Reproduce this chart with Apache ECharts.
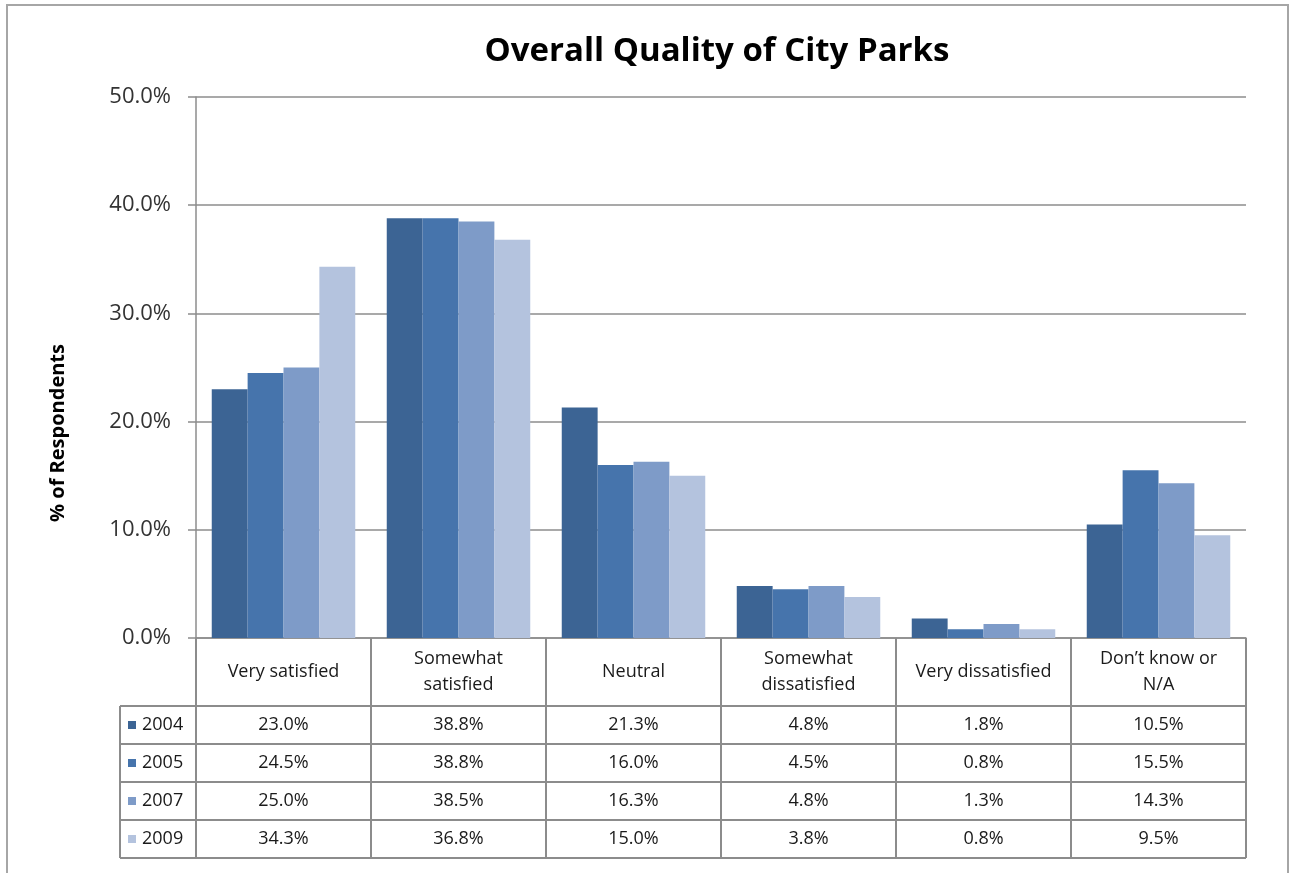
<!DOCTYPE html>
<html>
<head>
<meta charset="utf-8">
<script src="https://cdn.jsdelivr.net/npm/echarts@6/dist/echarts.min.js"></script>
<style>
html, body { margin: 0; padding: 0; background: #fff; }
#main { width: 1289px; height: 873px; }
</style>
</head>
<body>
<div id="main"></div>
<script>
var categories = ['Very satisfied', 'Somewhat satisfied', 'Neutral', 'Somewhat dissatisfied', 'Very dissatisfied', 'Don\u2019t know or N/A'];
var years = ['2004', '2005', '2007', '2009'];
var v2004 = [23.0, 38.8, 21.3, 4.8, 1.8, 10.5];
var v2005 = [24.5, 38.8, 16.0, 4.5, 0.8, 15.5];
var v2007 = [25.0, 38.5, 16.3, 4.8, 1.3, 14.3];
var v2009 = [34.3, 36.8, 15.0, 3.8, 0.8, 9.5];
var yMin = 0, yMax = 50, yStep = 10;

var values = [v2004, v2005, v2007, v2009];
var colors = ['#3c6494', '#4674ac', '#7e9bc8', '#b4c3de'];
var gridColor = '#8c8c8c';
var font = '"Open Sans", Lato, sans-serif';
var catSize = 18;

// word wrap like excel's table header cells
var measure = document.createElement('canvas').getContext('2d');
function wrap(text, maxW) {
	measure.font = catSize + 'px ' + font;
	var words = text.split(' '), lines = [], cur = '';
	words.forEach(function(w) {
		var t = cur ? cur + ' ' + w : w;
		if (cur && measure.measureText(t).width > maxW) { lines.push(cur); cur = w; }
		else cur = t;
	});
	lines.push(cur);
	return lines.join('\n');
}

var myChart = echarts.init(document.getElementById('main'));

var series = years.map(function(y, i) {
	return {
		name: y,
		type: 'bar',
		data: values[i],
		barGap: '0%',
		barCategoryGap: '18%',
		itemStyle: { color: colors[i] }
	};
});

var option = {
	animation: false,
	title: {
		text: 'Overall Quality of City Parks',
		left: 712,
		top: 30,
		textAlign: 'center',
		textStyle: { fontFamily: font, fontSize: 33, fontWeight: 'bold', color: '#000' }
	},
	grid: { left: 196, right: 43, top: 97, bottom: 235, containLabel: false },
	xAxis: {
		type: 'category',
		data: categories,
		axisLine: { lineStyle: { color: gridColor, width: 1.5 } },
		axisTick: { show: true, length: 68, interval: 0, lineStyle: { color: gridColor, width: 2 } },
		axisLabel: {
			interval: 0,
			margin: 34,
			verticalAlign: 'middle',
			lineHeight: 26,
			fontFamily: font,
			fontSize: catSize,
			color: '#1a1a1a',
			formatter: function(v) { return wrap(v, 145); }
		}
	},
	yAxis: {
		type: 'value',
		min: yMin,
		max: yMax,
		interval: yStep,
		axisLine: { show: true, lineStyle: { color: gridColor, width: 1.5 } },
		axisTick: { show: true, length: 8, lineStyle: { color: gridColor, width: 1.5 } },
		splitLine: { lineStyle: { color: gridColor, width: 1.5 } },
		axisLabel: {
			margin: 25,
			fontFamily: font,
			fontSize: 22,
			color: '#333',
			formatter: function(v) { return v.toFixed(1) + '%'; }
		}
	},
	series: series
};
myChart.setOption(option);

// data table drawn underneath the category row
(function() {
	var c0 = myChart.convertToPixel({ xAxisIndex: 0 }, 0);
	var c1 = myChart.convertToPixel({ xAxisIndex: 0 }, 1);
	var band = c1 - c0;
	var tLeft = c0 - band / 2;
	var tRight = tLeft + band * categories.length;
	var tTop = myChart.convertToPixel({ yAxisIndex: 0 }, yMin) + 68;
	var rowH = 38;
	var labelLeft = 120;
	var g = [];

	g.push({
		type: 'rect',
		shape: { x: 7, y: 5, width: 1281, height: 872 },
		style: { fill: 'none', stroke: '#a6a6a6', lineWidth: 2 },
		silent: true
	});
	g.push({
		type: 'text',
		x: 58, y: 433,
		rotation: Math.PI / 2,
		style: {
			text: '% of Respondents',
			fontFamily: font, fontSize: 20, fontWeight: 'bold', fill: '#000',
			align: 'center', verticalAlign: 'middle'
		}
	});

	for (var r = 0; r <= years.length; r++) {
		g.push({
			type: 'line',
			shape: { x1: labelLeft, y1: tTop + r * rowH, x2: tRight, y2: tTop + r * rowH },
			style: { stroke: gridColor, lineWidth: 2 }
		});
	}
	var vx = [labelLeft];
	for (var c = 0; c <= categories.length; c++) vx.push(tLeft + c * band);
	vx.forEach(function(x) {
		g.push({
			type: 'line',
			shape: { x1: x, y1: tTop, x2: x, y2: tTop + years.length * rowH },
			style: { stroke: gridColor, lineWidth: 2 }
		});
	});

	years.forEach(function(y, i) {
		var cy = tTop + i * rowH + rowH / 2;
		g.push({
			type: 'rect',
			shape: { x: 128, y: cy - 4, width: 8, height: 8 },
			style: { fill: colors[i] }
		});
		g.push({
			type: 'text',
			x: 142, y: cy,
			style: { text: y, fontFamily: font, fontSize: 18, fill: '#1a1a1a', verticalAlign: 'middle', align: 'left' }
		});
		values[i].forEach(function(v, j) {
			g.push({
				type: 'text',
				x: myChart.convertToPixel({ xAxisIndex: 0 }, j), y: cy,
				style: { text: v.toFixed(1) + '%', fontFamily: font, fontSize: 18, fill: '#1a1a1a', align: 'center', verticalAlign: 'middle' }
			});
		});
	});

	myChart.setOption({ graphic: g });
})();
</script>
</body>
</html>
